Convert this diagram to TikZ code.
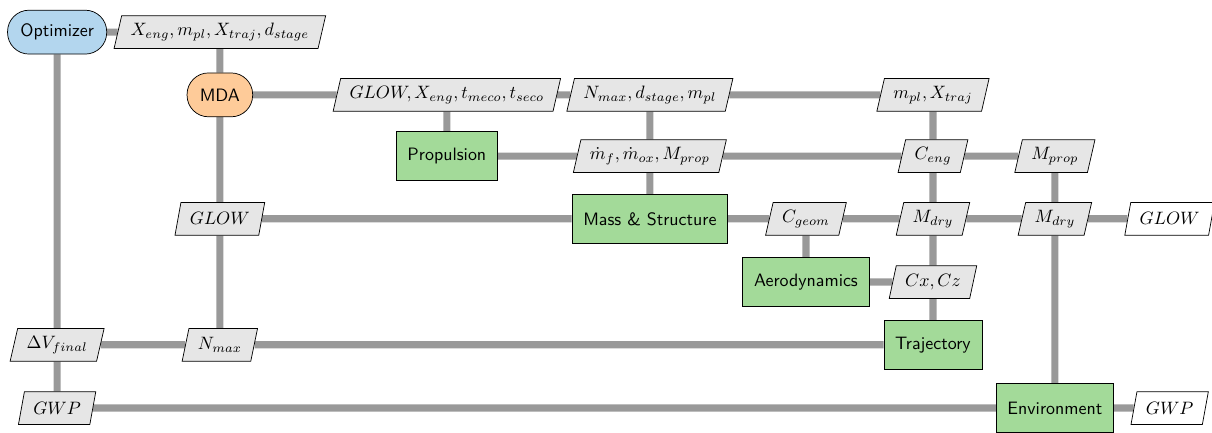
\documentclass[tikz,border=0pt]{standalone}
\usetikzlibrary{shapes.geometric}
\pgfdeclarelayer{background}
\pgfsetlayers{background,main}
\definecolor{optblue}{RGB}{179,214,238}
\definecolor{mdaorange}{RGB}{254,203,153}
\definecolor{fungreen}{RGB}{163,218,153}
\definecolor{datagray}{RGB}{230,230,230}

\begin{document}
\begin{tikzpicture}[
    func/.style = {draw, fill=fungreen, font=\sffamily, minimum height=0.95cm, inner xsep=0.22cm},
    driver/.style = {draw, rounded corners=0.42cm, font=\sffamily, minimum height=0.86cm, inner xsep=0.25cm},
    data/.style = {draw, fill=datagray, trapezium, trapezium left angle=73, trapezium right angle=107, trapezium stretches body, minimum height=0.64cm, inner xsep=5pt, inner ysep=2pt},
    outdata/.style = {data, fill=white},
    flow/.style = {line width=4pt, draw=black!40}
]
    \useasboundingbox (0,0) rectangle (23.76,-8.47);

    \node[driver, fill=optblue] (opt) at (1.12,-0.63) {Optimizer};
    \node[driver, fill=mdaorange] (mda) at (4.31,-1.86) {MDA};
    \node[func] (prop) at (8.76,-3.06) {Propulsion};
    \node[func] (mass) at (12.74,-4.29) {Mass \& Structure};
    \node[func] (aero) at (15.80,-5.53) {Aerodynamics};
    \node[func] (traj) at (18.29,-6.76) {Trajectory};
    \node[func] (env) at (20.68,-8.00) {Environment};

    \node[data] (dx) at (4.31,-0.63) {$X_{eng}, m_{pl}, X_{traj}, d_{stage}$};
    \node[data] (dglowa) at (8.76,-1.86) {$GLOW, X_{eng}, t_{meco}, t_{seco}$};
    \node[data] (dnmaxa) at (12.74,-1.86) {$N_{max}, d_{stage}, m_{pl}$};
    \node[data] (dmpl) at (18.29,-1.86) {$m_{pl}, X_{traj}$};
    \node[data] (dmdot) at (12.74,-3.06) {$\dot{m}_f, \dot{m}_{ox}, M_{prop}$};
    \node[data] (dceng) at (18.29,-3.06) {$C_{eng}$};
    \node[data] (dmprop) at (20.68,-3.06) {$M_{prop}$};
    \node[data] (dglowb) at (4.31,-4.29) {$GLOW$};
    \node[data] (dcgeom) at (15.80,-4.29) {$C_{geom}$};
    \node[data] (dmdrya) at (18.29,-4.29) {$M_{dry}$};
    \node[data] (dmdryb) at (20.68,-4.29) {$M_{dry}$};
    \node[outdata] (oglow) at (22.93,-4.29) {$GLOW$};
    \node[data] (dcxcz) at (18.29,-5.53) {$Cx, Cz$};
    \node[data] (ddv) at (1.12,-6.76) {$\Delta V_{final}$};
    \node[data] (dnmaxb) at (4.31,-6.76) {$N_{max}$};
    \node[data] (dgwp) at (1.12,-8.00) {$GWP$};
    \node[outdata] (ogwp) at (22.93,-8.00) {$GWP$};

    \begin{pgfonlayer}{background}
    \draw[flow] (opt) -- (dx) -- (mda);
    \draw[flow] (opt) -- (ddv) -- (dgwp);
    \draw[flow] (mda) -- (dglowa) -- (dnmaxa) -- (dmpl);
    \draw[flow] (mda) -- (dglowb) -- (dnmaxb);
    \draw[flow] (dglowa) -- (prop);
    \draw[flow] (dnmaxa) -- (dmdot) -- (mass);
    \draw[flow] (prop) -- (dmdot) -- (dceng) -- (dmprop);
    \draw[flow] (dglowb) -- (mass) -- (dcgeom) -- (dmdrya) -- (dmdryb) -- (oglow);
    \draw[flow] (dcgeom) -- (aero) -- (dcxcz);
    \draw[flow] (dmpl) -- (dceng) -- (dmdrya) -- (dcxcz) -- (traj);
    \draw[flow] (dmprop) -- (dmdryb) -- (env);
    \draw[flow] (ddv) -- (dnmaxb) -- (traj);
    \draw[flow] (dgwp) -- (env) -- (ogwp);
    \end{pgfonlayer}
\end{tikzpicture}
\end{document}
